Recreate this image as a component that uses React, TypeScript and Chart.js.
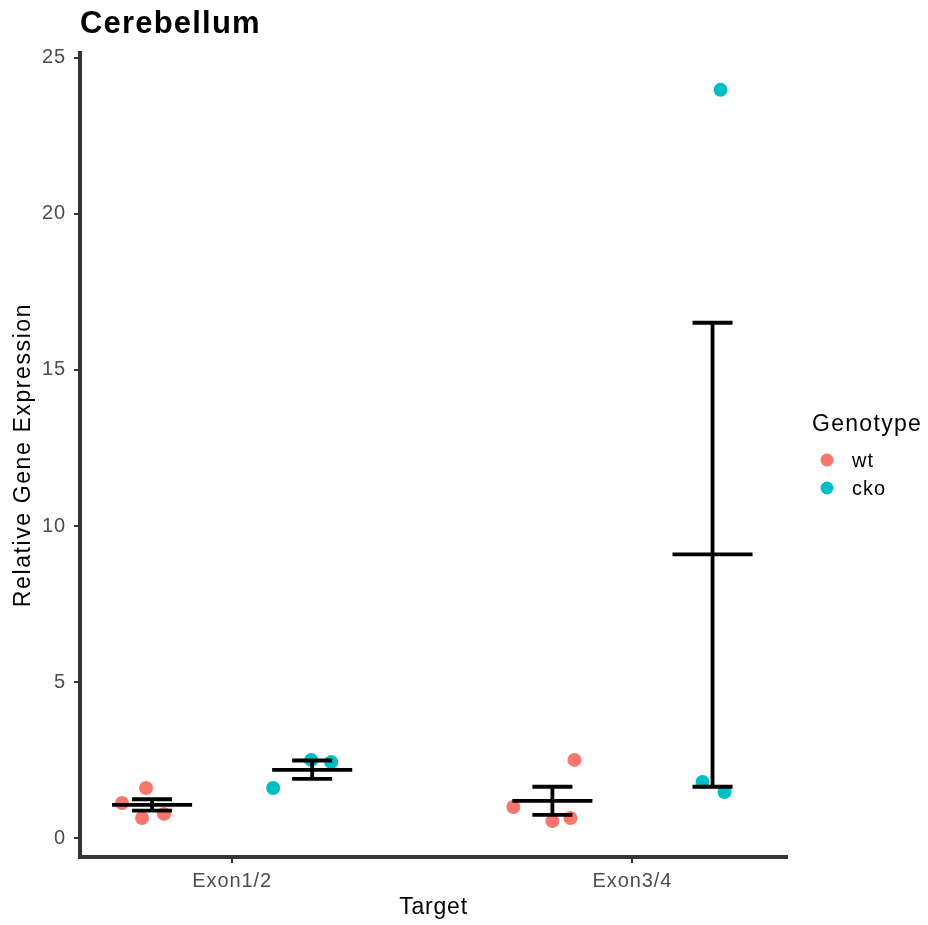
import React, { useEffect, useRef } from 'react';
import { Chart, registerables } from 'chart.js';

Chart.register(...registerables);

// ---- data ----
const categories = ['Exon1/2', 'Exon3/4'];
const genotypes = ['wt', 'cko'];
const genotypeColors = ['#F8766D', '#00BFC4'];
const dodge = [-0.2, 0.2];

const wtExon12 = [1.13, 1.61, 0.65, 0.78];
const wtExon12Jitter = [-0.075, -0.015, -0.025, 0.03];
const wtExon34 = [1.0, 2.51, 0.55, 0.65];
const wtExon34Jitter = [-0.0975, 0.055, 0.0, 0.045];
const ckoExon12 = [1.61, 2.51, 2.44];
const ckoExon12Jitter = [-0.0975, -0.0025, 0.0475];
const ckoExon34 = [1.8, 1.48, 23.97];
const ckoExon34Jitter = [-0.025, 0.03, 0.02];

// summary (mean ± SE) per category
const wtMean = [1.07, 1.195];
const wtLow = [0.885, 0.75];
const wtHigh = [1.25, 1.65];
const ckoMean = [2.19, 9.09];
const ckoLow = [1.9, 1.65];
const ckoHigh = [2.49, 16.51];

const yTicks = [0, 5, 10, 15, 20, 25];

const FONT = "'Liberation Sans', Arial, Helvetica, sans-serif";

function pts(values: number[], jitter: number[], catIndex: number, gi: number) {
  return values.map((v, i) => ({ x: catIndex + 1 + dodge[gi] + jitter[i], y: v }));
}

function errorSegments() {
  const out: { x: number; y: number | null }[] = [];
  const groups = [
    [wtMean, wtLow, wtHigh],
    [ckoMean, ckoLow, ckoHigh],
  ];
  groups.forEach(([m, lo, hi], gi) => {
    categories.forEach((_, ci) => {
      const cx = ci + 1 + dodge[gi];
      out.push({ x: cx - 0.1, y: m[ci] }, { x: cx + 0.1, y: m[ci] }, { x: cx, y: null });
      out.push({ x: cx - 0.05, y: hi[ci] }, { x: cx + 0.05, y: hi[ci] }, { x: cx, y: null });
      out.push({ x: cx - 0.05, y: lo[ci] }, { x: cx + 0.05, y: lo[ci] }, { x: cx, y: null });
      out.push({ x: cx, y: lo[ci] }, { x: cx, y: hi[ci] }, { x: cx, y: null });
    });
  });
  return out;
}

const textPlugin = {
  id: 'textPlugin',
  beforeDraw(chart: any) {
    chart.ctx.letterSpacing = '0.9px';
  },
  afterDraw(chart: any) {
    const ctx = chart.ctx as CanvasRenderingContext2D;
    const area = chart.chartArea;
    ctx.save();
    // title
    ctx.fillStyle = '#000';
    ctx.textAlign = 'left';
    ctx.textBaseline = 'alphabetic';
    (ctx as any).letterSpacing = '1.2px';
    ctx.font = `bold 31px ${FONT}`;
    ctx.fillText('Cerebellum', 80, 33);

    // x title
    (ctx as any).letterSpacing = '0.8px';
    ctx.font = `23px ${FONT}`;
    ctx.textAlign = 'center';
    ctx.fillText('Target', (area.left + area.right) / 2, 914);

    // y title
    ctx.save();
    ctx.translate(29.5, (area.top + area.bottom) / 2);
    ctx.rotate(-Math.PI / 2);
    (ctx as any).letterSpacing = '1.6px';
    ctx.textAlign = 'center';
    ctx.fillText('Relative Gene Expression', 0, 0);
    ctx.restore();

    // legend
    ctx.textAlign = 'left';
    (ctx as any).letterSpacing = '1.3px';
    ctx.font = `23px ${FONT}`;
    ctx.fillText('Genotype', 812, 431);
    const rows = [460, 488];
    (ctx as any).letterSpacing = '1px';
    ctx.font = `20px ${FONT}`;
    genotypes.forEach((g, i) => {
      ctx.fillStyle = genotypeColors[i];
      ctx.beginPath();
      ctx.arc(827, rows[i], 6.5, 0, Math.PI * 2);
      ctx.fill();
      ctx.fillStyle = '#000';
      ctx.fillText(g, 852, rows[i] + 7);
    });
    ctx.restore();
    (ctx as any).letterSpacing = '0px';
  },
};

export default function App() {
  const ref = useRef<HTMLCanvasElement>(null);
  useEffect(() => {
    if (!ref.current) return;
    const chart = new Chart(ref.current, {
      type: 'scatter',
      data: {
        datasets: [
          {
            label: 'errorbars',
            data: errorSegments(),
            showLine: true,
            spanGaps: false,
            borderColor: '#000',
            borderWidth: 3.8,
            pointRadius: 0,
            order: 0,
          } as any,
          {
            label: 'wt',
            data: [...pts(wtExon12, wtExon12Jitter, 0, 0), ...pts(wtExon34, wtExon34Jitter, 1, 0)],
            backgroundColor: genotypeColors[0],
            borderColor: genotypeColors[0],
            pointRadius: 7,
            pointBorderWidth: 0,
            order: 1,
          },
          {
            label: 'cko',
            data: [...pts(ckoExon12, ckoExon12Jitter, 0, 1), ...pts(ckoExon34, ckoExon34Jitter, 1, 1)],
            backgroundColor: genotypeColors[1],
            borderColor: genotypeColors[1],
            pointRadius: 7,
            pointBorderWidth: 0,
            order: 1,
          },
        ],
      },
      options: {
        responsive: false,
        animation: false,
        events: [],
        layout: { padding: { top: 53, right: 141, left: 0, bottom: 0 } },
        plugins: { legend: { display: false }, title: { display: false }, tooltip: { enabled: false } },
        scales: {
          x: {
            type: 'linear',
            min: 0.62,
            max: 2.386,
            afterBuildTicks: (s: any) => {
              s.ticks = categories.map((_, i) => ({ value: i + 1 }));
            },
            afterFit: (s: any) => {
              s.height = 68;
            },
            ticks: {
              callback: (v: any) => categories[Number(v) - 1] ?? '',
              font: { family: FONT, size: 20 },
              color: '#4D4D4D',
              padding: 6,
              maxRotation: 0,
              autoSkip: false,
            },
            grid: { drawOnChartArea: false, drawTicks: true, tickLength: 6, color: '#333333', lineWidth: 2 },
            border: { display: true, color: '#333333', width: 4 },
          },
          y: {
            type: 'linear',
            min: -0.6,
            max: 25.15,
            afterBuildTicks: (s: any) => {
              s.ticks = yTicks.map((v) => ({ value: v }));
            },
            afterFit: (s: any) => {
              s.width = 80;
            },
            ticks: {
              font: { family: FONT, size: 20 },
              color: '#4D4D4D',
              padding: 8,
            },
            grid: { drawOnChartArea: false, drawTicks: true, tickLength: 6, color: '#333333', lineWidth: 2 },
            border: { display: true, color: '#333333', width: 4 },
          },
        },
      },
      plugins: [textPlugin],
    } as any);
    return () => chart.destroy();
  }, []);
  return (
    <div style={{ position: 'absolute', left: 0, top: 0, width: 928, height: 925, background: '#fff' }}>
      <canvas ref={ref} width={928} height={925} style={{ width: 928, height: 925 }} />
    </div>
  );
}
